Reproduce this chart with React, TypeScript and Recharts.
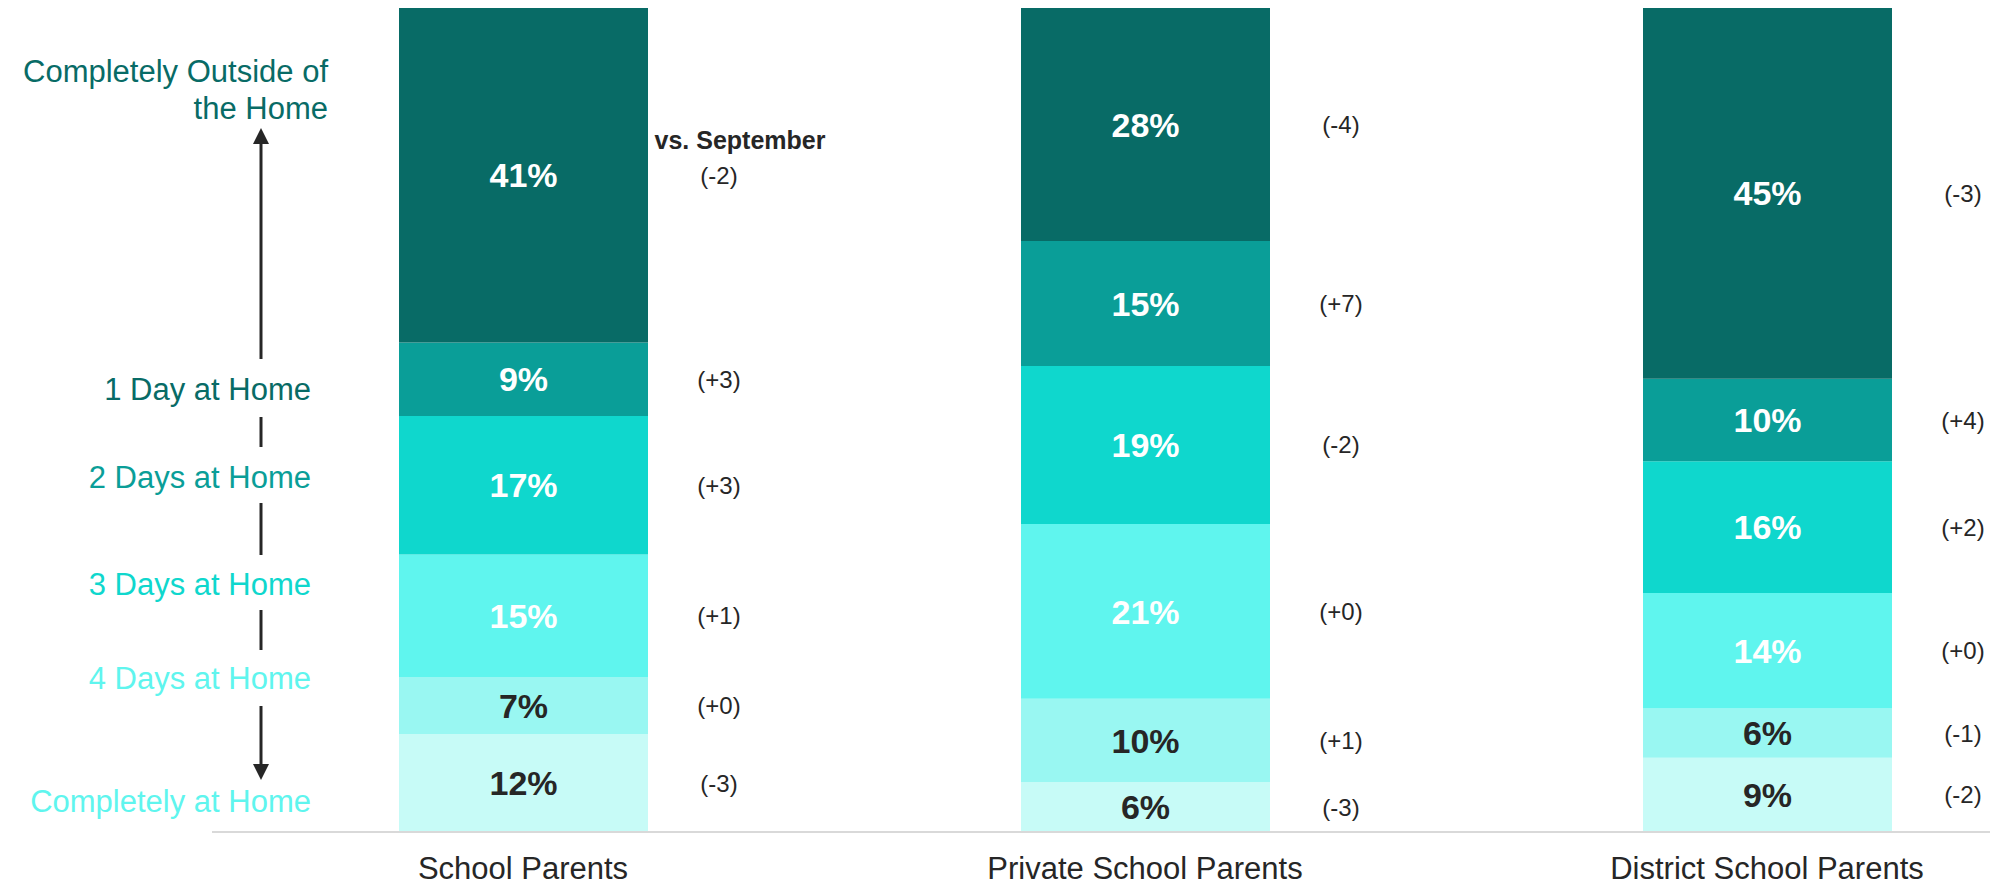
import React from "react"
import { BarChart, Bar, XAxis, YAxis, LabelList } from "recharts"

const FONT = "'Liberation Sans', Arial, Helvetica, sans-serif"

const categories = ["School Parents", "Private School Parents", "District School Parents"]

// share of parents, bottom of the stack first
const completelyAtHome = [12, 6, 9]
const fourDays = [7, 10, 6]
const threeDays = [15, 21, 14]
const twoDays = [17, 19, 16]
const oneDay = [9, 15, 10]
const outsideHome = [41, 28, 45]

// change vs. September
const completelyAtHomeDelta = [-3, -3, -2]
const fourDaysDelta = [0, 1, -1]
const threeDaysDelta = [1, 0, 0]
const twoDaysDelta = [3, -2, 2]
const oneDayDelta = [3, 7, 4]
const outsideHomeDelta = [-2, -4, -3]

const segments = [
	{ key: "completelyAtHome", values: completelyAtHome, deltas: completelyAtHomeDelta, color: "#c7fbf7", text: "#262626" },
	{ key: "fourDays", values: fourDays, deltas: fourDaysDelta, color: "#99f7f2", text: "#262626" },
	{ key: "threeDays", values: threeDays, deltas: threeDaysDelta, color: "#5ff5ee", text: "#ffffff" },
	{ key: "twoDays", values: twoDays, deltas: twoDaysDelta, color: "#0fd7cd", text: "#ffffff" },
	{ key: "oneDay", values: oneDay, deltas: oneDayDelta, color: "#0a9e98", text: "#ffffff" },
	{ key: "outsideHome", values: outsideHome, deltas: outsideHomeDelta, color: "#086b66", text: "#ffffff" },
]

const data = categories.map((name, i) => {
	const row: Record<string, string | number> = { name }
	segments.forEach((s) => {
		row[s.key] = s.values[i]
		row[s.key + "Delta"] = s.deltas[i]
	})
	return row
})

// scale labels on the left, with the baseline of each line
const scaleLabels = [
	{ text: "Completely Outside of", x: 328, y: 82, color: "#086b66" },
	{ text: "the Home", x: 328, y: 119, color: "#086b66" },
	{ text: "1 Day at Home", x: 311, y: 400, color: "#086b66" },
	{ text: "2 Days at Home", x: 311, y: 488, color: "#0a9e98" },
	{ text: "3 Days at Home", x: 311, y: 595, color: "#0fd7cd" },
	{ text: "4 Days at Home", x: 311, y: 689, color: "#5ff5ee" },
	{ text: "Completely at Home", x: 311, y: 812, color: "#5ff5ee" },
]

const arrowSegments = [
	[143, 359],
	[417, 447],
	[503, 555],
	[610, 650],
	[706, 765],
]

const formatDelta = (v: number) => (v >= 0 ? `(+${v})` : `(${v})`)

const DeltaLabel = (props: any) => {
	const { x, y, width, height, value } = props
	return (
		<text
			x={Number(x) + Number(width) + 71}
			y={Number(y) + Number(height) / 2}
			textAnchor="middle"
			dominantBaseline="central"
			fontSize={24}
			fontFamily={FONT}
			fill="#262626"
		>
			{formatDelta(Number(value))}
		</text>
	)
}

export default function App() {
	const arrowX = 261
	return (
		<div
			style={{
				position: "fixed",
				left: 0,
				top: 0,
				width: 1990,
				height: 883,
				overflow: "hidden",
				background: "#fff",
			}}
		>
			<BarChart
				width={2090}
				height={883}
				data={data}
				stackOffset="expand"
				margin={{ top: 8, right: 12, left: 212, bottom: 6 }}
			>
				<XAxis
					dataKey="name"
					height={45}
					axisLine={{ stroke: "#d9d9d9", strokeWidth: 2 }}
					tickLine={false}
					tickMargin={19}
					tick={{ fontSize: 31, fill: "#262626", fontFamily: FONT }}
					interval={0}
				/>
				<YAxis hide domain={[0, 1]} />
				{segments.map((s) => (
					<Bar
						key={s.key}
						dataKey={s.key}
						stackId="a"
						fill={s.color}
						barSize={249}
						isAnimationActive={false}
					>
						<LabelList
							dataKey={s.key}
							position="center"
							formatter={(v: any) => `${v}%`}
							fill={s.text}
							fontSize={34}
							fontWeight="bold"
							fontFamily={FONT}
						/>
						<LabelList dataKey={s.key + "Delta"} content={DeltaLabel} />
					</Bar>
				))}
			</BarChart>
			<svg
				width={1990}
				height={883}
				style={{ position: "absolute", left: 0, top: 0, pointerEvents: "none" }}
			>
				{scaleLabels.map((l) => (
					<text
						key={l.text}
						x={l.x}
						y={l.y}
						textAnchor="end"
						fontSize={31}
						fontFamily={FONT}
						fill={l.color}
					>
						{l.text}
					</text>
				))}
				{arrowSegments.map(([a, b]) => (
					<line key={a} x1={arrowX} x2={arrowX} y1={a} y2={b} stroke="#262626" strokeWidth={3} />
				))}
				<polygon points={`${arrowX},128 ${arrowX - 8},144 ${arrowX + 8},144`} fill="#262626" />
				<polygon points={`${arrowX},780 ${arrowX - 8},764 ${arrowX + 8},764`} fill="#262626" />
				<text
					x={740}
					y={149}
					textAnchor="middle"
					fontSize={25}
					fontWeight="bold"
					fontFamily={FONT}
					fill="#262626"
				>
					vs. September
				</text>
			</svg>
		</div>
	)
}
